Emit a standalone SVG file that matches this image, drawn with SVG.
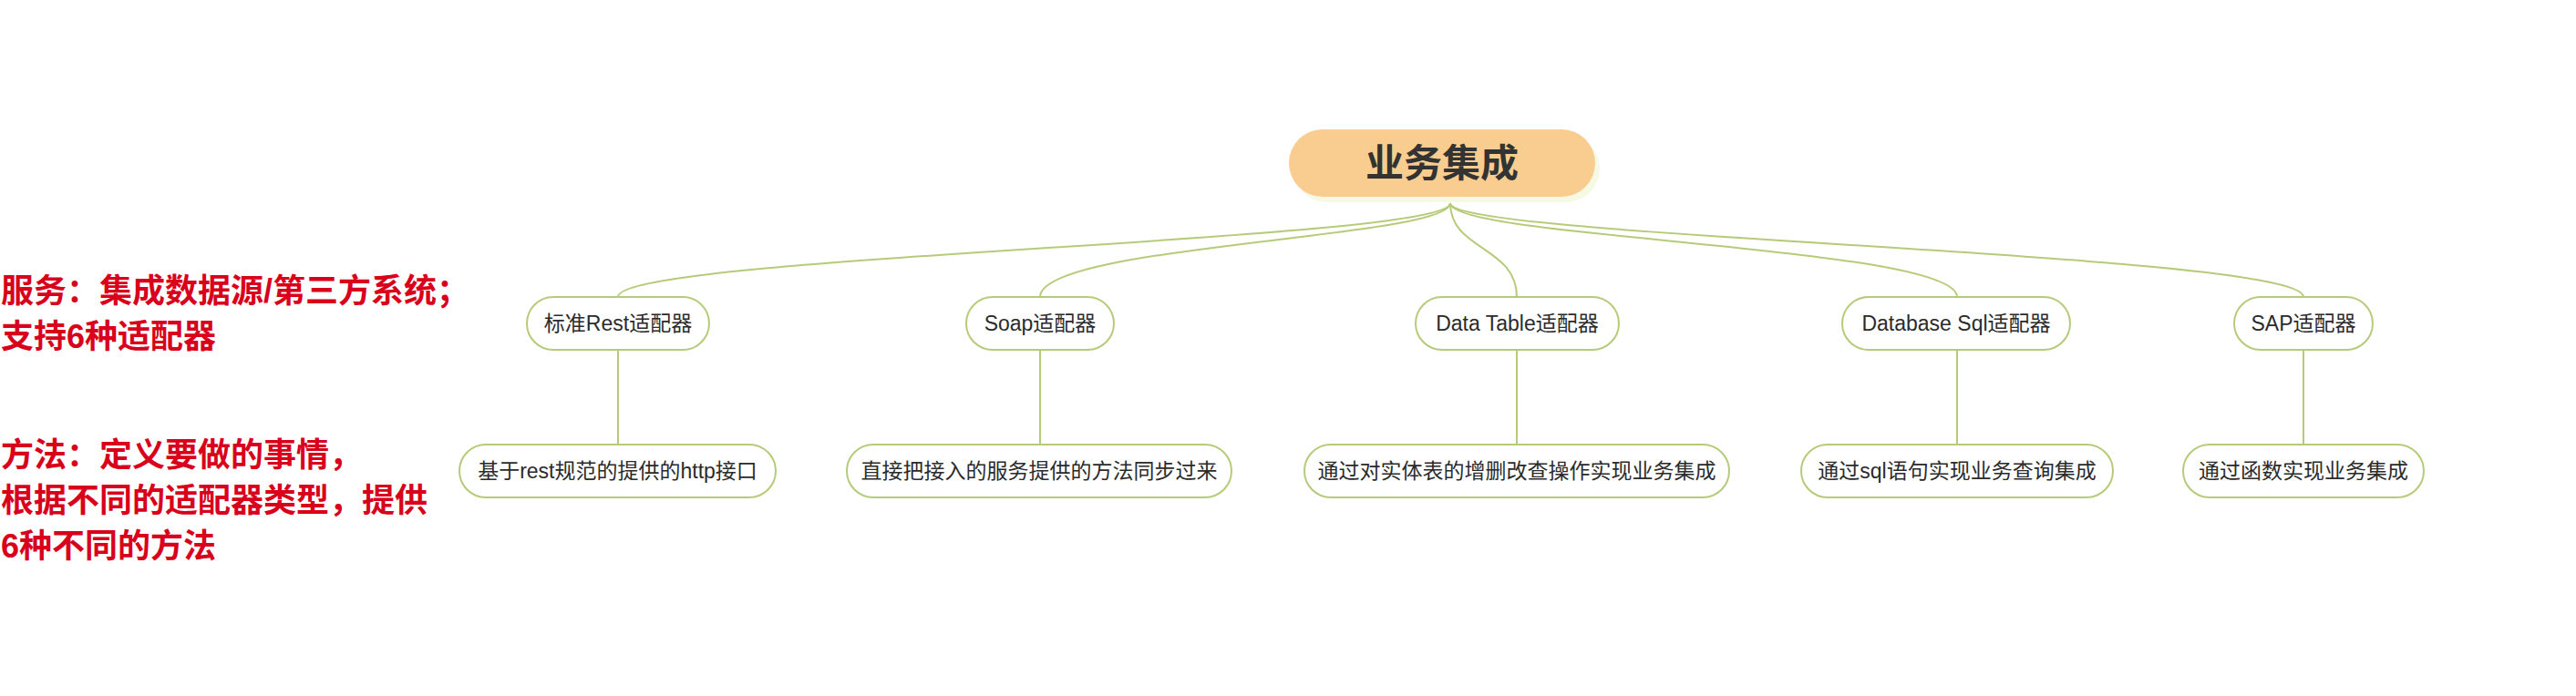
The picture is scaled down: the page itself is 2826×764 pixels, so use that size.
<svg xmlns="http://www.w3.org/2000/svg" width="2826" height="764" viewBox="0 0 2826 764">
<style>
.bg{fill:#ffffff}
.node{fill:#ffffff;stroke:#b6cb7a;stroke-width:2}
.lbl{font-family:"Liberation Sans","Noto Sans CJK SC",sans-serif;font-size:23px;fill:#2b2b2b;text-anchor:middle}
.conn{fill:none;stroke:#b6cb7a;stroke-width:2}
.note{font-family:"Liberation Sans","Noto Sans CJK SC",sans-serif;font-size:36px;font-weight:bold;fill:#d9001b}
.title{font-family:"Liberation Sans","Noto Sans CJK SC",sans-serif;font-size:42px;font-weight:bold;fill:#333333;text-anchor:middle}
</style>
<rect class="bg" x="0" y="0" width="2826" height="764"/>
<g id="connectors">
<path class="conn" d="M1591,223 C1591,265 678,280 678,326"/>
<path class="conn" d="M1591,223 C1591,262 1141,268 1141,326"/>
<path class="conn" d="M1591,223 C1591,275 1664,270 1664,326"/>
<path class="conn" d="M1591,223 C1591,262 2147,270 2147,326"/>
<path class="conn" d="M1591,223 C1591,262 2527,277 2527,326"/>
<line class="conn" x1="678" y1="384" x2="678" y2="488"/>
<line class="conn" x1="1141" y1="384" x2="1141" y2="488"/>
<line class="conn" x1="1664" y1="384" x2="1664" y2="488"/>
<line class="conn" x1="2147" y1="384" x2="2147" y2="488"/>
<line class="conn" x1="2527" y1="384" x2="2527" y2="488"/>
</g>
<g id="root">
<rect x="1419" y="148" width="336" height="74" rx="37" fill="#f6f9e4"/>
<rect x="1414" y="142" width="336" height="74" rx="37" fill="#f9cd90"/>
<text class="title" x="1582" y="194">业务集成</text>
</g>
<g id="c1"><rect class="node" x="578" y="326" width="200" height="58" rx="29"/><text class="lbl" x="678" y="363">标准Rest适配器</text></g>
<g id="c2"><rect class="node" x="1060" y="326" width="162" height="58" rx="29"/><text class="lbl" x="1141" y="363">Soap适配器</text></g>
<g id="c3"><rect class="node" x="1553" y="326" width="223" height="58" rx="29"/><text class="lbl" x="1664.5" y="363">Data Table适配器</text></g>
<g id="c4"><rect class="node" x="2021" y="326" width="250" height="58" rx="29"/><text class="lbl" x="2146" y="363">Database Sql适配器</text></g>
<g id="c5"><rect class="node" x="2451" y="326" width="152" height="58" rx="29"/><text class="lbl" x="2527" y="363">SAP适配器</text></g>
<g id="g1"><rect class="node" x="504" y="488" width="347" height="58" rx="29"/><text class="lbl" x="677.5" y="525">基于rest规范的提供的http接口</text></g>
<g id="g2"><rect class="node" x="929" y="488" width="422" height="58" rx="29"/><text class="lbl" x="1140" y="525">直接把接入的服务提供的方法同步过来</text></g>
<g id="g3"><rect class="node" x="1431" y="488" width="466" height="58" rx="29"/><text class="lbl" x="1664" y="525">通过对实体表的增删改查操作实现业务集成</text></g>
<g id="g4"><rect class="node" x="1976" y="488" width="342" height="58" rx="29"/><text class="lbl" x="2147" y="525">通过sql语句实现业务查询集成</text></g>
<g id="g5"><rect class="node" x="2395" y="488" width="264" height="58" rx="29"/><text class="lbl" x="2527" y="525">通过函数实现业务集成</text></g>
<g id="notes">
<text class="note" x="1" y="332">服务：集成数据源/第三方系统；</text>
<text class="note" x="1" y="382">支持6种适配器</text>
<text class="note" x="1" y="512">方法：定义要做的事情，</text>
<text class="note" x="1" y="562">根据不同的适配器类型，提供</text>
<text class="note" x="1" y="612">6种不同的方法</text>
</g>
</svg>
